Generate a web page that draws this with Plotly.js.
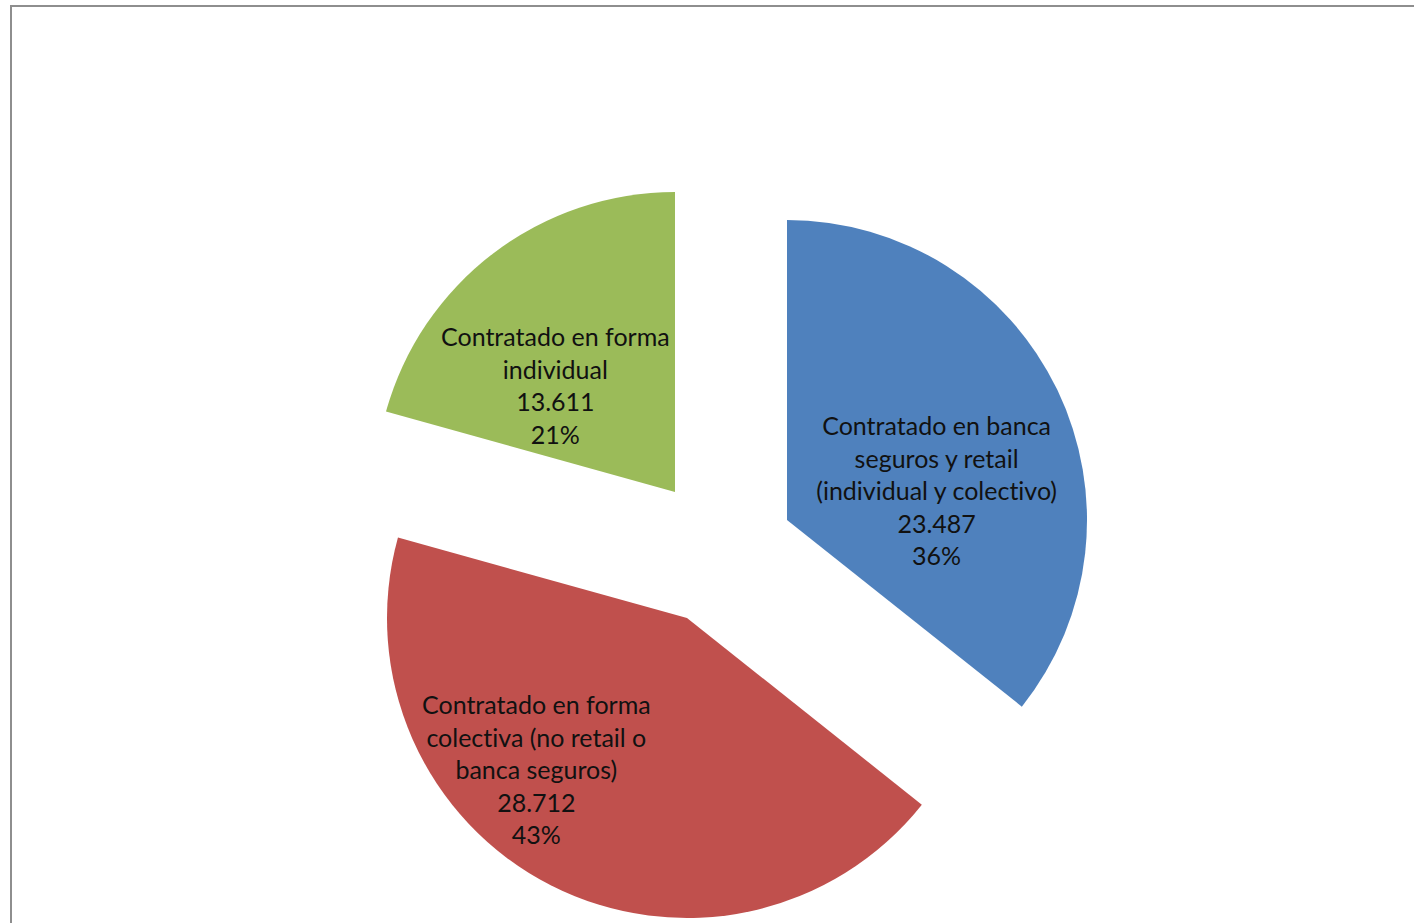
<!DOCTYPE html>
<html>
<head>
<meta charset="utf-8">
<script src="https://cdn.plot.ly/plotly-3.0.1.min.js"></script>
<style>
html,body{margin:0;padding:0;background:#fff;}
#chart{width:1414px;height:923px;}
#chart text{font-variant-ligatures:none;font-feature-settings:"liga" 0;}
</style>
</head>
<body>
<div id="chart"></div>
<script>
// ---- data ----
const categories = [
  'Contratado en banca seguros y retail (individual y colectivo)',
  'Contratado en forma colectiva (no retail o banca seguros)',
  'Contratado en forma individual'
];
const categoryLines = [
  'Contratado en banca<br>seguros y retail<br>(individual y colectivo)',
  'Contratado en forma<br>colectiva (no retail o<br>banca seguros)',
  'Contratado en forma<br>individual'
];
const values = [23487, 28712, 13611];
const percentLabels = [36, 43, 21];
const colors = ['#4F81BD', '#C0504D', '#9BBB59'];

// ---- layout helpers (exploded slice positions, px) ----
const W = 1414, H = 923, R = 300;
const sliceCenters = [[787, 520], [687, 618], [675, 492]];
const labelCenters = [[937, 490], [536, 769], [555, 385]];

function fmt(n) {
  return String(n).replace(/\B(?=(\d{3})+(?!\d))/g, '.');
}

const traces = categories.map((cat, i) => {
  const [cx, cy] = sliceCenters[i];
  return {
    type: 'pie',
    values: values,
    labels: categories,
    sort: false,
    direction: 'clockwise',
    rotation: 0,
    textinfo: 'none',
    hoverinfo: 'label+value+percent',
    showlegend: false,
    marker: {
      colors: colors.map((c, j) => j === i ? c : 'rgba(0,0,0,0)'),
      line: {width: 0}
    },
    domain: {
      x: [(cx - R) / W, (cx + R) / W],
      y: [1 - (cy + R) / H, 1 - (cy - R) / H]
    }
  };
});

const annotations = categories.map((cat, i) => ({
  xref: 'paper', yref: 'paper',
  x: labelCenters[i][0] / W,
  y: 1 - labelCenters[i][1] / H,
  xanchor: 'center', yanchor: 'middle',
  align: 'center',
  showarrow: false,
  text: categoryLines[i] + '<br>' + fmt(values[i]) + '<br>' + percentLabels[i] + '%',
  font: {family: 'Lato, "Open Sans", sans-serif', size: 25, color: '#111111'}
}));

const layout = {
  width: W, height: H,
  margin: {l: 0, r: 0, t: 0, b: 0},
  paper_bgcolor: '#ffffff',
  plot_bgcolor: '#ffffff',
  showlegend: false,
  separators: ',.',
  annotations: annotations,
  shapes: [{
    type: 'rect', xref: 'paper', yref: 'paper',
    x0: 11 / W, x1: 1.02, y0: -0.02, y1: 1 - 6 / H,
    line: {color: '#8e8e8e', width: 2},
    fillcolor: 'rgba(0,0,0,0)',
    layer: 'below'
  }]
};

Plotly.newPlot('chart', traces, layout, {staticPlot: true, displayModeBar: false});
</script>
</body>
</html>
